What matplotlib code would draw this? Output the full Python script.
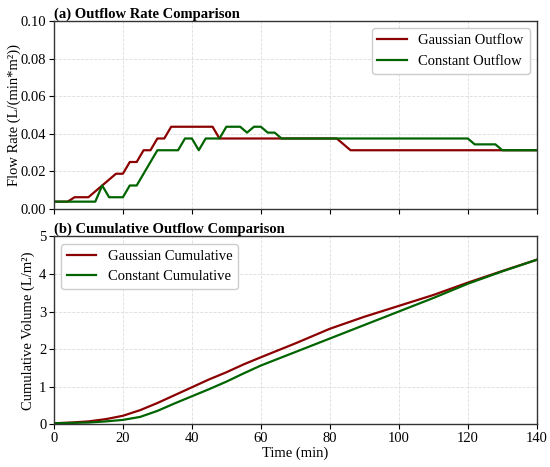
import matplotlib
matplotlib.use("Agg")
import matplotlib.pyplot as plt
import numpy as np

# ---- data ----
# (a) outflow rate, vertices of the step-like lines (min, L/(min*m2))
gauss_rate_t = [0, 4, 6, 10, 18, 20, 22, 24, 26, 28, 30, 32, 34, 46, 48, 82, 86, 140]
gauss_rate_v = [0.0039, 0.0039, 0.00625, 0.00625, 0.01875, 0.01875, 0.025, 0.025,
                0.03125, 0.03125, 0.0375, 0.0375, 0.04375, 0.04375, 0.0375, 0.0375,
                0.03125, 0.03125]
const_rate_t = [0, 12, 14, 16, 20, 22, 24, 30, 36, 38, 40, 42, 44, 48, 50, 54, 56, 58,
                60, 62, 64, 66, 120, 122, 128, 130, 140]
const_rate_v = [0.0039, 0.0039, 0.0125, 0.00625, 0.00625, 0.0125, 0.0125, 0.03125,
                0.03125, 0.0375, 0.0375, 0.03125, 0.0375, 0.0375, 0.04375, 0.04375,
                0.040625, 0.04375, 0.04375, 0.040625, 0.040625, 0.0375, 0.0375,
                0.034375, 0.034375, 0.03125, 0.03125]

# (b) cumulative volume (L/m2)
cum_t = [0, 5, 10, 15, 20, 25, 30, 35, 40, 45, 50, 55, 60, 70, 80, 90, 100, 110, 120, 130, 140]
gauss_cum = [0.02, 0.04, 0.07, 0.13, 0.22, 0.37, 0.56, 0.77, 0.98, 1.19, 1.38, 1.59,
             1.78, 2.15, 2.54, 2.86, 3.15, 3.44, 3.77, 4.08, 4.38]
const_cum = [0.02, 0.03, 0.04, 0.07, 0.11, 0.19, 0.35, 0.55, 0.74, 0.93, 1.13, 1.35,
             1.56, 1.92, 2.28, 2.64, 3.00, 3.36, 3.74, 4.07, 4.38]

x_ticks = [0, 20, 40, 60, 80, 100, 120, 140]
rate_ticks = [0.00, 0.02, 0.04, 0.06, 0.08, 0.10]
cum_ticks = [0, 1, 2, 3, 4, 5]

RED = "#8b0000"
GREEN = "#006400"

plt.rcParams["font.family"] = ["Liberation Serif", "DejaVu Serif"]
plt.rcParams["mathtext.fontset"] = "stix"
FS = 10.5

fig = plt.figure(figsize=(5.5, 4.67), dpi=100)
ax1 = fig.add_axes([0.098, 0.5525, 0.878, 0.4025])
ax2 = fig.add_axes([0.098, 0.092, 0.878, 0.4016])

ax1.plot(gauss_rate_t, gauss_rate_v, color=RED, lw=1.6, label="Gaussian Outflow")
ax1.plot(const_rate_t, const_rate_v, color=GREEN, lw=1.6, label="Constant Outflow")
ax1.set_xlim(0, 140)
ax1.set_ylim(0, 0.10)
ax1.set_xticks(x_ticks)
ax1.set_xticklabels([])
ax1.set_yticks(rate_ticks)
ax1.set_yticklabels([f"{v:.2f}" for v in rate_ticks])
ax1.set_ylabel("Flow Rate (L/(min*m²))", fontsize=FS, labelpad=0)
ax1.set_title("(a) Outflow Rate Comparison", loc="left", fontweight="bold",
              fontsize=FS, pad=2)
ax1.legend(loc="upper right", fontsize=FS, frameon=True, edgecolor="#cccccc",
           fancybox=True, framealpha=1.0)

ax2.plot(cum_t, gauss_cum, color=RED, lw=1.6, label="Gaussian Cumulative")
ax2.plot(cum_t, const_cum, color=GREEN, lw=1.6, label="Constant Cumulative")
ax2.set_xlim(0, 140)
ax2.set_ylim(0, 5)
ax2.set_xticks(x_ticks)
ax2.set_yticks(cum_ticks)
ax2.set_xlabel("Time (min)", fontsize=FS, labelpad=1)
ax2.set_ylabel("Cumulative Volume (L/m²)", fontsize=FS, labelpad=3)
ax2.set_title("(b) Cumulative Outflow Comparison", loc="left", fontweight="bold",
              fontsize=FS, pad=2)
ax2.legend(loc="upper left", fontsize=FS, frameon=True, edgecolor="#cccccc",
           fancybox=True, framealpha=1.0)

for ax in (ax1, ax2):
    ax.grid(True, linestyle="--", color="#dddddd", linewidth=0.6)
    ax.tick_params(labelsize=FS, direction="out", length=3.5, width=0.8, pad=2)
    for s in ax.spines.values():
        s.set_color("#333333")
        s.set_linewidth(1.0)

fig.savefig("out.png", dpi=100)
